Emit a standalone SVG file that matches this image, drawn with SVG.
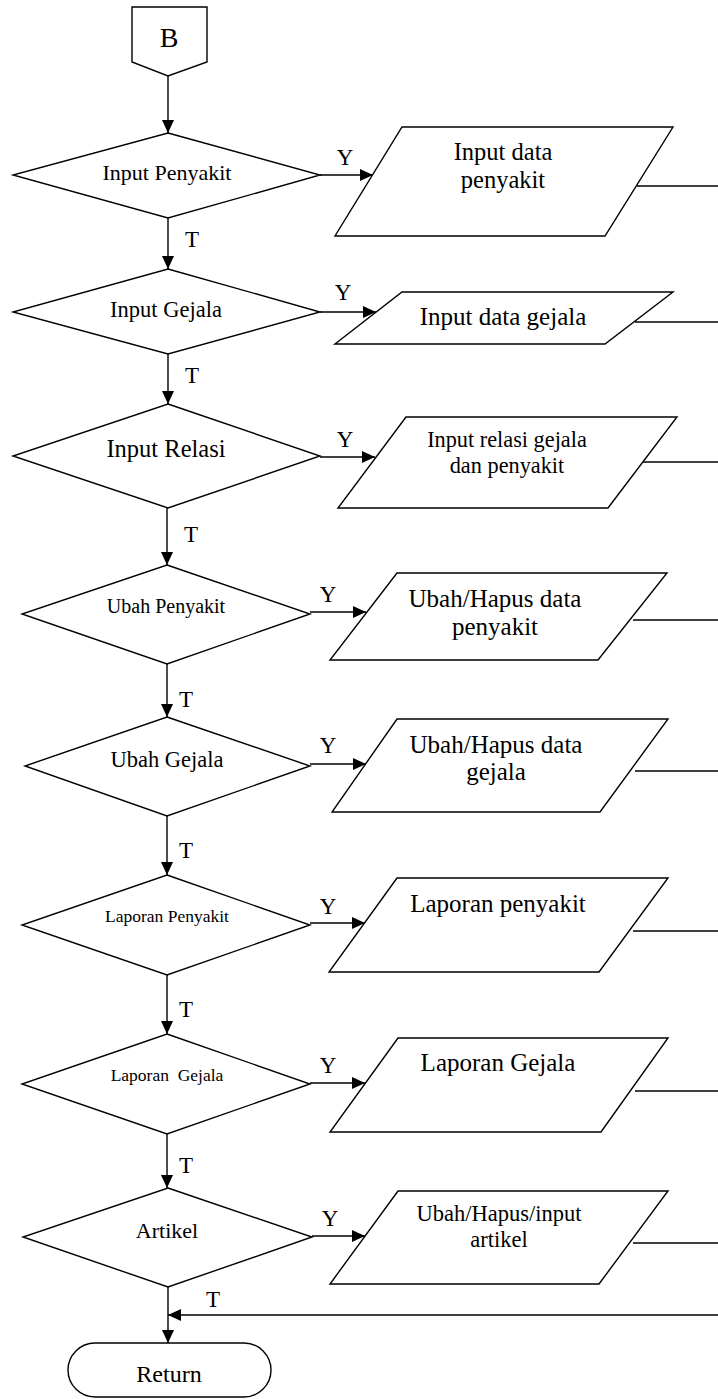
<svg xmlns="http://www.w3.org/2000/svg" width="718" height="1399" viewBox="0 0 718 1399">
<defs>
<style>
.s{fill:#fff;stroke:#000;stroke-width:1.4}
.c{fill:none;stroke:#000;stroke-width:1.4}
text{font-family:"Liberation Serif","Times New Roman",serif;fill:#000;text-anchor:middle}
.lb{font-size:23px}
</style>
<marker id="ah" markerWidth="13" markerHeight="12" refX="13" refY="6" orient="auto" markerUnits="userSpaceOnUse"><path d="M0,0 L13,6 L0,12 z" fill="#000"/></marker>
</defs>
<rect width="718" height="1399" fill="#fff"/>
<g id="connectors">
<line class="c" x1="168" y1="76" x2="168" y2="133" marker-end="url(#ah)"/>
<line class="c" x1="168" y1="218" x2="168" y2="269" marker-end="url(#ah)"/>
<line class="c" x1="168" y1="354" x2="168" y2="404" marker-end="url(#ah)"/>
<line class="c" x1="167" y1="508" x2="167" y2="565" marker-end="url(#ah)"/>
<line class="c" x1="167" y1="664" x2="167" y2="717" marker-end="url(#ah)"/>
<line class="c" x1="167" y1="816" x2="167" y2="875" marker-end="url(#ah)"/>
<line class="c" x1="167" y1="975" x2="167" y2="1034" marker-end="url(#ah)"/>
<line class="c" x1="167" y1="1134" x2="167" y2="1188" marker-end="url(#ah)"/>
<line class="c" x1="168" y1="1287" x2="168" y2="1343" marker-end="url(#ah)"/>
<line class="c" x1="718" y1="1315" x2="168" y2="1315" marker-end="url(#ah)"/>
<line class="c" x1="320" y1="175" x2="373" y2="175" marker-end="url(#ah)"/>
<line class="c" x1="320" y1="312" x2="376" y2="312" marker-end="url(#ah)"/>
<line class="c" x1="320" y1="457" x2="375" y2="457" marker-end="url(#ah)"/>
<line class="c" x1="310" y1="612" x2="366" y2="612" marker-end="url(#ah)"/>
<line class="c" x1="310" y1="764" x2="366" y2="764" marker-end="url(#ah)"/>
<line class="c" x1="310" y1="923" x2="365" y2="923" marker-end="url(#ah)"/>
<line class="c" x1="310" y1="1083" x2="365" y2="1083" marker-end="url(#ah)"/>
<line class="c" x1="312" y1="1236" x2="365" y2="1236" marker-end="url(#ah)"/>
<line class="c" x1="637" y1="186" x2="718" y2="186"/>
<line class="c" x1="635" y1="322" x2="718" y2="322"/>
<line class="c" x1="635" y1="462" x2="718" y2="462"/>
<line class="c" x1="633" y1="620" x2="718" y2="620"/>
<line class="c" x1="635" y1="771" x2="718" y2="771"/>
<line class="c" x1="633" y1="931" x2="718" y2="931"/>
<line class="c" x1="635" y1="1091" x2="718" y2="1091"/>
<line class="c" x1="633" y1="1243" x2="718" y2="1243"/>
<text class="lb" x="345" y="165">Y</text>
<text class="lb" x="343" y="300">Y</text>
<text class="lb" x="345" y="447">Y</text>
<text class="lb" x="328" y="602">Y</text>
<text class="lb" x="328" y="753">Y</text>
<text class="lb" x="328" y="914">Y</text>
<text class="lb" x="328" y="1073">Y</text>
<text class="lb" x="330" y="1226">Y</text>
<text class="lb" x="192" y="247">T</text>
<text class="lb" x="192" y="383">T</text>
<text class="lb" x="191" y="542">T</text>
<text class="lb" x="186" y="707">T</text>
<text class="lb" x="186" y="858">T</text>
<text class="lb" x="186" y="1017">T</text>
<text class="lb" x="186" y="1173">T</text>
<text class="lb" x="213" y="1307">T</text>
</g>
<g id="connector-B">
<polygon class="s" points="132,7 207,7 207,62 168,76 132,62"/>
<text x="169" y="47" font-size="28">B</text>
</g>
<g id="d1">
<polygon class="s" points="168,133 320,175 168,218 13,175"/>
<text x="167" y="180" font-size="22">Input Penyakit</text>
</g>
<g id="p1">
<polygon class="s" points="402,127 673,127 605,236 335,236"/>
<text x="503" y="160" font-size="24.5">Input data</text>
<text x="503" y="188" font-size="24.5">penyakit</text>
</g>
<g id="d2">
<polygon class="s" points="168,269 320,312 168,354 13,312"/>
<text x="166" y="317" font-size="22.5">Input Gejala</text>
</g>
<g id="p2">
<polygon class="s" points="402,292 673,292 605,344 335,344"/>
<text x="503" y="325" font-size="25">Input data gejala</text>
</g>
<g id="d3">
<polygon class="s" points="168,404 320,456 168,508 13,456"/>
<text x="166" y="457" font-size="24.5">Input Relasi</text>
</g>
<g id="p3">
<polygon class="s" points="406,417 677,417 608,508 338,508"/>
<text x="507" y="447" font-size="22.3">Input relasi gejala</text>
<text x="507" y="473" font-size="22.3">dan penyakit</text>
</g>
<g id="d4">
<polygon class="s" points="167,565 310,614 167,664 22,614"/>
<text x="166" y="613" font-size="20">Ubah Penyakit</text>
</g>
<g id="p4">
<polygon class="s" points="397,573 667,573 598,660 330,660"/>
<text x="495" y="607" font-size="25">Ubah/Hapus data</text>
<text x="495" y="635" font-size="25">penyakit</text>
</g>
<g id="d5">
<polygon class="s" points="167,717 310,766 167,816 25,766"/>
<text x="167" y="767" font-size="22.5">Ubah Gejala</text>
</g>
<g id="p5">
<polygon class="s" points="397,719 668,719 600,812 332,812"/>
<text x="496" y="753" font-size="25">Ubah/Hapus data</text>
<text x="496" y="780" font-size="25">gejala</text>
</g>
<g id="d6">
<polygon class="s" points="167,875 310,925 167,975 22,925"/>
<text x="167" y="922" font-size="17.5">Laporan Penyakit</text>
</g>
<g id="p6">
<polygon class="s" points="397,878 668,878 599,972 329,972"/>
<text x="498" y="912" font-size="25">Laporan penyakit</text>
</g>
<g id="d7">
<polygon class="s" points="167,1034 310,1084 167,1134 22,1084"/>
<text x="167" y="1081" font-size="17.5" xml:space="preserve">Laporan  Gejala</text>
</g>
<g id="p7">
<polygon class="s" points="398,1038 668,1038 601,1132 330,1132"/>
<text x="498" y="1071" font-size="25">Laporan Gejala</text>
</g>
<g id="d8">
<polygon class="s" points="168,1188 312,1237 168,1287 23,1237"/>
<text x="167" y="1238" font-size="22">Artikel</text>
</g>
<g id="p8">
<polygon class="s" points="398,1191 668,1191 599,1284 330,1284"/>
<text x="499" y="1221" font-size="22.5">Ubah/Hapus/input</text>
<text x="499" y="1247" font-size="22.5">artikel</text>
</g>
<g id="return">
<rect class="s" x="68" y="1343" width="203" height="54" rx="27" ry="27"/>
<text x="169" y="1382" font-size="24">Return</text>
</g>
</svg>
